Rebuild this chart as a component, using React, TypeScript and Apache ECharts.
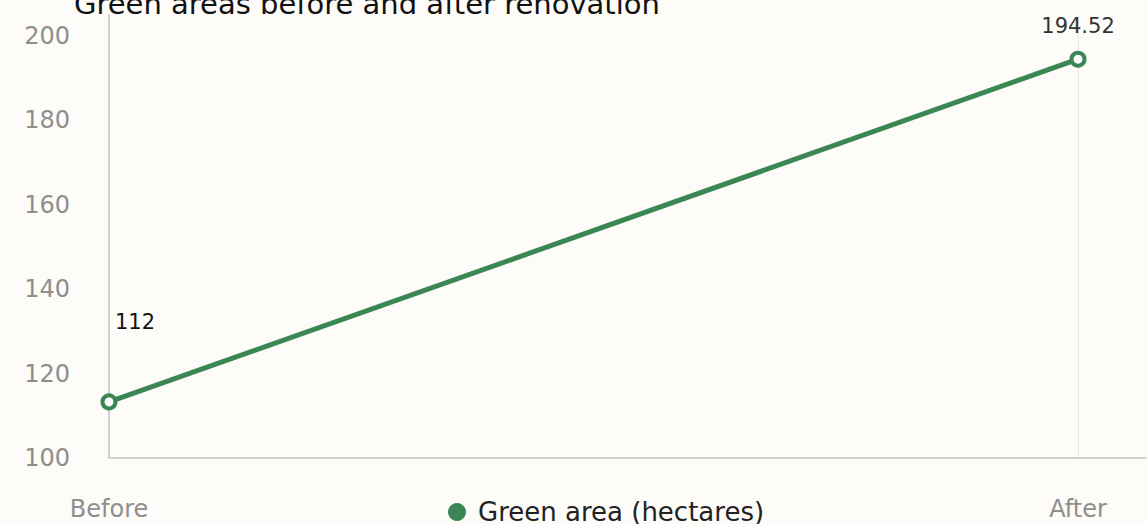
import React, { useEffect, useRef } from "react";
import * as echarts from "echarts";

const categories = ["Before", "After"];
const greenArea = [113.3, 194.52];
const pointLabels = ["112", "194.52"];
const yTicks = [100, 120, 140, 160, 180, 200];
const seriesName = "Green area (hectares)";
const titleText = "Green areas before and after renovation";

export default function App() {
  const ref = useRef<HTMLDivElement>(null);
  useEffect(() => {
    if (!ref.current) return;
    const chart = echarts.init(ref.current, null, { renderer: "svg" });
    const font = "'DejaVu Sans', sans-serif";
    const green = "#3b8753";
    const xMax = 1038 / 969;
    chart.setOption({
      animation: false,
      backgroundColor: "#fdfcf8",
      textStyle: { fontFamily: font },
      title: {
        text: titleText,
        left: 69,
        top: -16,
        textStyle: { fontSize: 29, fontWeight: "normal", color: "#111", fontFamily: font },
      },
      legend: {
        left: 443,
        top: 494,
        icon: "circle",
        itemWidth: 18,
        itemHeight: 18,
        itemGap: 10,
        textStyle: { fontSize: 26, color: "#222", fontFamily: font, padding: [0, 0, 0, 7] },
        data: [{ name: seriesName, itemStyle: { color: green, borderWidth: 0 } }],
      },
      grid: { left: 109, right: 0, top: 15, bottom: 66, containLabel: false },
      xAxis: {
        type: "value",
        min: 0,
        max: xMax,
        interval: 1,
        axisLine: { show: true, lineStyle: { color: "#c4c4c4", width: 1.5 } },
        axisTick: { show: false },
        splitLine: { show: true, lineStyle: { color: "#e6e6e6", width: 1 } },
        axisLabel: {
          margin: 39,
          fontSize: 24,
          color: "#8e8e8e",
          fontFamily: font,
          showMaxLabel: false,
          formatter: (v: number) => (v === 0 ? categories[0] : v === 1 ? categories[1] : ""),
        },
      },
      yAxis: {
        type: "value",
        min: yTicks[0],
        max: 205,
        interval: yTicks[1] - yTicks[0],
        axisLine: { show: true, lineStyle: { color: "#c4c4c4", width: 1.5 } },
        axisTick: { show: false },
        splitLine: { show: false },
        axisLabel: {
          margin: 39,
          fontSize: 24,
          color: "#8e8e8e",
          fontFamily: font,
          showMaxLabel: false,
        },
      },
      series: [
        {
          name: seriesName,
          type: "line",
          symbol: "circle",
          symbolSize: 13,
          itemStyle: { color: "#ffffff", borderColor: green, borderWidth: 4 },
          lineStyle: { color: green, width: 5 },
          data: greenArea.map((v, i) => ({
            value: [i, v],
            label: {
              show: true,
              formatter: pointLabels[i],
              position: "top",
              fontSize: 21,
              fontFamily: font,
              color: i === 0 ? "#111" : "#333",
              offset: i === 0 ? [26, -56] : [0, -9],
            },
          })),
        },
      ],
    });
    return () => chart.dispose();
  }, []);
  return (
    <div
      ref={ref}
      style={{ position: "fixed", left: 0, top: 0, width: 1147, height: 524 }}
    />
  );
}
